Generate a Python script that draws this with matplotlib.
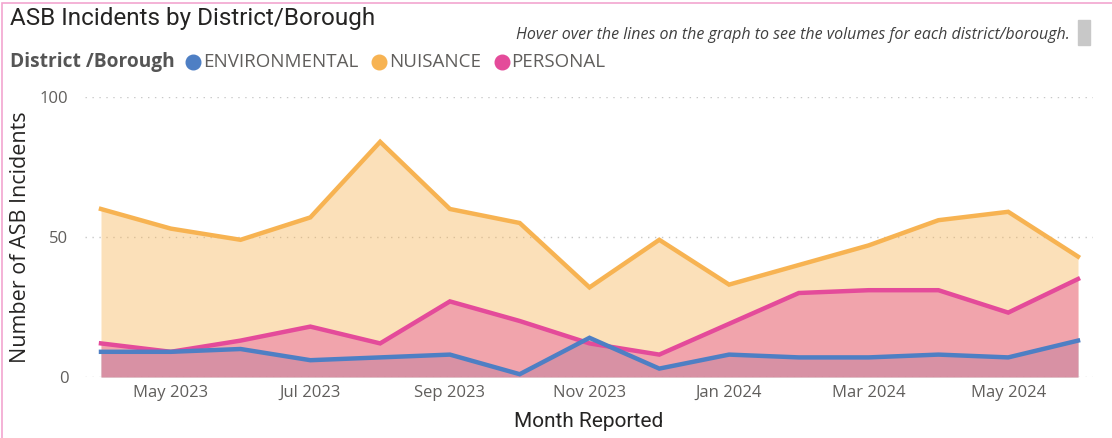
import matplotlib.pyplot as plt
from matplotlib.lines import Line2D
from matplotlib.patches import Rectangle

# values
months = ["Apr 2023", "May 2023", "Jun 2023", "Jul 2023", "Aug 2023", "Sep 2023",
          "Oct 2023", "Nov 2023", "Dec 2023", "Jan 2024", "Feb 2024", "Mar 2024",
          "Apr 2024", "May 2024", "Jun 2024"]
environmental = [9, 9, 10, 6, 7, 8, 1, 14, 3, 8, 7, 7, 8, 7, 13]
nuisance = [60, 53, 49, 57, 84, 60, 55, 32, 49, 33, 40, 47, 56, 59, 43]
personal = [12, 9, 13, 18, 12, 27, 20, 12, 8, 19, 30, 31, 31, 23, 35]
y_ticks = [0, 50, 100]

C_ENV = "#4E7FC4"
C_NUI = "#F7B352"
C_PER = "#E44B9A"

fig = plt.figure(figsize=(11.12, 4.38), dpi=100)
ax = fig.add_axes([85 / 1112, 1 - 377 / 438, (1093 - 85) / 1112, 280 / 438])

x = list(range(len(months)))

# overlapping (not stacked) areas
for vals, c in [(environmental, C_ENV), (nuisance, C_NUI), (personal, C_PER)]:
    ax.fill_between(x, 0, vals, color=c, alpha=0.4, linewidth=0)
for vals, c in [(nuisance, C_NUI), (personal, C_PER), (environmental, C_ENV)]:
    ax.plot(x, vals, color=c, linewidth=3.2, solid_joinstyle="miter", clip_on=False)

ax.set_xlim(-16 / 69.8, 14 + 15 / 69.8)
ax.set_ylim(0, 100)
ax.set_yticks(y_ticks)
ax.set_xticks(x[1::2])
ax.set_xticklabels(months[1::2])
ax.tick_params(length=0, labelsize=12, labelcolor="#605E5C")
ax.tick_params(axis="y", pad=12)
ax.tick_params(axis="x", pad=6)
for lbl in ax.get_xticklabels() + ax.get_yticklabels():
    lbl.set_family("Open Sans")
ax.grid(axis="y", color="#C8C8C8", linestyle=(0, (1, 4)), linewidth=1)
ax.set_axisbelow(True)
for s in ax.spines.values():
    s.set_visible(False)

ax.set_ylabel("Number of ASB Incidents", fontsize=15.5, family="Open Sans",
              color="#252423", labelpad=6)
ax.set_xlabel("Month Reported", fontsize=15, family="Roboto",
              color="#252423", labelpad=8)

# title, hint text and legend
fig.text(10 / 1112, 1 - 18 / 438, "ASB Incidents by District/Borough", fontsize=17.5,
         family="Roboto", color="#252423", va="center")
fig.text(1070 / 1112, 1 - 35 / 438,
         "Hover over the lines on the graph to see the volumes for each district/borough.",
         fontsize=11.5, family="Open Sans", style="italic", color="#404040",
         ha="right", va="center")
fig.add_artist(Rectangle((1078 / 1112, 1 - 45 / 438), 12 / 1112, 25 / 438,
                         transform=fig.transFigure, color="#C8C8C8"))

ly = 1 - 62 / 438
fig.text(10 / 1112, ly, "District /Borough", fontsize=13.8, family="Open Sans",
         weight="bold", color="#555555", va="center")
for cx, tx, name, c in [(193, 203, "ENVIRONMENTAL", C_ENV),
                        (379, 389, "NUISANCE", C_NUI),
                        (502, 511, "PERSONAL", C_PER)]:
    fig.add_artist(Line2D([cx / 1112], [ly], marker="o", markersize=10.5,
                          color=c, transform=fig.transFigure))
    fig.text(tx / 1112, ly, name, fontsize=13.5, family="Open Sans",
             color="#605E5C", va="center")

# pink frame
fig.add_artist(Rectangle((2 / 1112, -0.01), 1.1, 1 - 3 / 438 + 0.01,
                         transform=fig.transFigure, fill=False,
                         edgecolor="#F2A6CF", linewidth=1.2))

fig.savefig("out.png", dpi=100)
